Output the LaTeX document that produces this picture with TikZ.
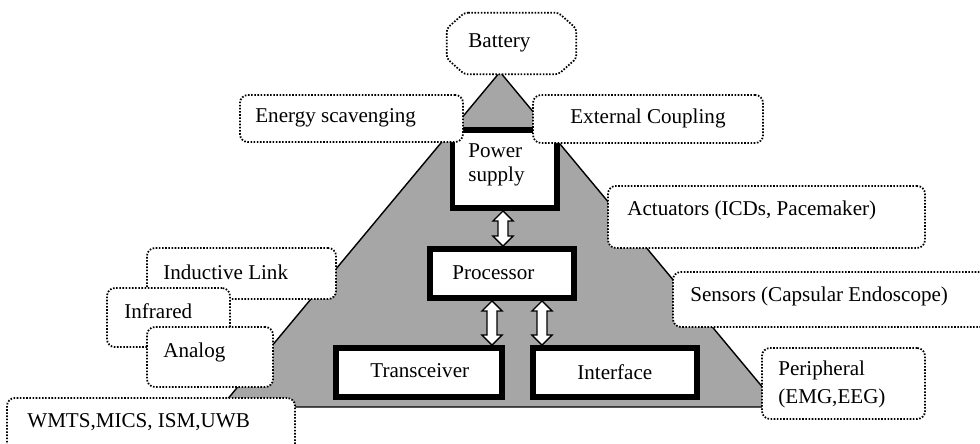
\documentclass[tikz,border=0pt]{standalone}
\usepackage{fontspec}
\setmainfont{Liberation Serif}
\usetikzlibrary{fit,calc}

\definecolor{pyrgray}{RGB}{166,166,166}
\def\u{0.02cm}

\tikzset{
  dotline/.style={draw, fill=white, line width=1pt, dash pattern=on 0.9pt off 0.9pt},
  dotbox/.style={dotline, rounded corners=4.5pt, inner sep=0pt},
  thickbox/.style={draw, fill=white, line width=3.4pt, inner sep=0pt},
  lbl/.style={anchor=west, inner sep=0pt, align=left, font=\fontsize{12}{13.7}\selectfont},
  % fat double arrow, drawn from the upper end to the lower end
  fatarrow/.style={draw, fill=white, line width=0.8pt,
    to path={-- ++(10,10) -- ++(-5,0) -- ([xshift=5*\u, yshift=10*\u]\tikztotarget)
      -- ++(5,0) -- (\tikztotarget) -- ++(-10,-10) -- ++(5,0)
      -- ([xshift=-5*\u, yshift=-10*\u]\tikztostart) -- ++(-5,0) -- cycle}}
}

\begin{document}
\begin{tikzpicture}[x=\u, y=-\u]
    \useasboundingbox (0,0) rectangle (980,443);

    % Grey pyramid
    \draw[fill=pyrgray, line width=0.8pt] (500,72) -- (779,407) -- (221,407) -- cycle;

    % Core blocks
    \node[thickbox, fit={(452.5,130) (557,208)}] (power) {};
    \node[thickbox, fit={(430,249) (574,298)}] (proc) {};
    \node[thickbox, fit={(336,348) (502,397)}] (trx) {};
    \node[thickbox, fit={(533,348) (697,397)}] (intf) {};
    \node[lbl] (powertxt) at (468,165) {Power\\supply};
    \node[lbl] (proctxt) at (452,273) {Processor};
    \node[lbl] (trxtxt) at (370,371) {Transceiver};
    \node[lbl] (intftxt) at (577,372) {Interface};

    % Double arrows between the blocks
    \coordinate (pwrbot) at (power.south -| 503,0);
    \coordinate (proctop) at (proc.north -| 503,0);
    \coordinate (procl) at (proc.south -| 492,0);
    \coordinate (procr) at (proc.south -| 542,0);
    \coordinate (trxtop) at (trx.north -| 492,0);
    \coordinate (intftop) at (intf.north -| 542,0);
    \draw[fatarrow] (pwrbot) to (proctop);
    \draw[fatarrow] (procl) to (trxtop);
    \draw[fatarrow] (procr) to (intftop);

    % Power sources
    \node[fit={(447,13) (576,74)}, inner sep=0pt] (battery) {};
    \draw[dotline, rounded corners=2pt] ([xshift=18*\u]battery.north west)
      -- ([xshift=-18*\u]battery.north east) -- ([yshift=-16*\u]battery.north east)
      -- ([yshift=16*\u]battery.south east) -- ([xshift=-18*\u]battery.south east)
      -- ([xshift=18*\u]battery.south west) -- ([yshift=16*\u]battery.south west)
      -- ([yshift=-16*\u]battery.north west) -- cycle;
    \node[lbl] (batterytxt) at (468,43) {Battery};
    \node[dotbox, fit={(240,95) (463,142)}] (energy) {};
    \node[lbl] (energytxt) at (255,118) {Energy scavenging};
    \node[dotbox, fit={(533,95) (763,143)}] (extcpl) {};
    \node[lbl] (extcpltxt) at (570,118) {External Coupling};

    % Interface side
    \node[dotbox, fit={(608,186) (925,248)}] (actuators) {};
    \node[lbl] (actuatorstxt) at (627,210) {Actuators (ICDs, Pacemaker)};
    \node[dotbox, fit={(673,272) (1000,327)}] (sensors) {};
    \node[lbl] (sensorstxt) at (690,296) {Sensors (Capsular Endoscope)};
    \node[dotbox, fit={(762,348) (925,419)}] (periph) {};
    \node[lbl, font=\fontsize{12}{16}\selectfont] (periphtxt) at (778,384) {Peripheral\\(EMG,EEG)};

    % Transceiver side
    \node[dotbox, fit={(147,248) (336,299)}] (inductive) {};
    \node[lbl] (inductivetxt) at (163,272) {Inductive Link};
    \node[dotbox, fit={(107,288) (230,347)}] (infrared) {};
    \node[lbl] (infraredtxt) at (124,311) {Infrared};
    \node[dotbox, fit={(147,327) (273,387)}] (analog) {};
    \node[lbl] (analogtxt) at (163,352) {Analog};
    \node[dotbox, fit={(7,398) (295,460)}] (bands) {};
    \node[lbl] (bandstxt) at (27,422) {WMTS,MICS, ISM,UWB};
\end{tikzpicture}
\end{document}
